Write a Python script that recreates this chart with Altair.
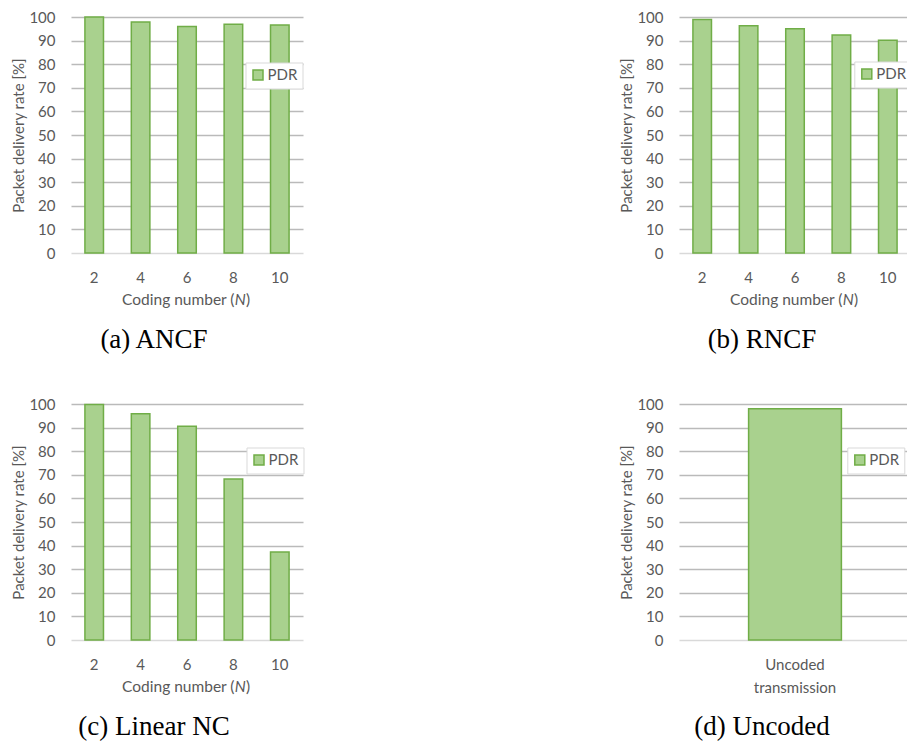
import altair as alt
import pandas as pd

# ---- data -------------------------------------------------------------
coding_numbers = ["2", "4", "6", "8", "10"]
pdr_ancf = [100.0, 97.9, 96.0, 96.9, 96.6]
pdr_rncf = [98.9, 96.3, 95.0, 92.4, 90.2]
pdr_linear_nc = [99.8, 95.9, 90.6, 68.2, 37.3]
uncoded_category = ["Uncoded transmission"]
pdr_uncoded = [98.0]
series_name = "PDR"
y_ticks = list(range(0, 101, 10))

captions = ["(a) ANCF", "(b) RNCF", "(c) Linear NC", "(d) Uncoded"]

# ---- style ------------------------------------------------------------
FONT = "Lato"
CAPTION_FONT = "Liberation Serif"
TEXT_GREY = "#595959"
BAR_FILL = "#a9d18e"
BAR_EDGE = "#70ad47"
PLOT_W, PLOT_H = 232, 236


def text_layer(text, x, y, **style):
    return (
        alt.Chart(pd.DataFrame({"t": [text]}))
        .mark_text(**style)
        .encode(text="t:N", x=alt.value(x), y=alt.value(y))
    )


def panel(categories, values, caption, legend_x, legend_y, coding_axis=True):
    df = pd.DataFrame({"category": categories, "pdr": values, "series": series_name})

    x_axis_opts = dict(
        title=None,
        labelFont=FONT,
        labelFontSize=15,
        labelColor=TEXT_GREY,
        labelAngle=0,
        labelPadding=29.5,
        labelBaseline="alphabetic",
        labelLineHeight=23,
        ticks=False,
        tickSize=0,
        domain=False,
        grid=False,
    )
    if not coding_axis:
        x_axis_opts["labelExpr"] = "split(datum.label, ' ')"

    y_axis = alt.Axis(
        values=y_ticks,
        title="Packet delivery rate [%]",
        titleFont=FONT,
        titleFontSize=15,
        titleFontWeight="normal",
        titleColor=TEXT_GREY,
        titlePadding=2,
        labelFont=FONT,
        labelFontSize=15,
        labelColor=TEXT_GREY,
        labelPadding=16,
        ticks=False,
        tickSize=0,
        domain=False,
        grid=True,
        gridColor={"condition": {"test": "datum.value === 0", "value": "#d9d9d9"}, "value": "#bababa"},
        gridWidth=1.6,
    )

    bars = alt.Chart(df).mark_bar(stroke=BAR_EDGE, strokeWidth=1.5).encode(
        x=alt.X(
            "category:N",
            sort=categories,
            scale=alt.Scale(paddingInner=0.6, paddingOuter=0.3),
            axis=alt.Axis(**x_axis_opts),
        ),
        y=alt.Y("pdr:Q", scale=alt.Scale(domain=[0, 100], nice=False), axis=y_axis),
        color=alt.Color(
            "series:N",
            scale=alt.Scale(range=[BAR_FILL]),
            legend=alt.Legend(
                title=None,
                orient="none",
                legendX=legend_x,
                legendY=legend_y,
                padding=5,
                strokeColor="#d9d9d9",
                fillColor="white",
                cornerRadius=0,
                symbolType="square",
                symbolSize=100,
                symbolStrokeColor=BAR_EDGE,
                symbolStrokeWidth=1.5,
                symbolOffset=0,
                labelFont=FONT,
                labelFontSize=15,
                labelColor=TEXT_GREY,
                labelOffset=2,
            ),
        ),
    )

    layers = [bars]
    if coding_axis:
        base = dict(font=FONT, fontSize=15.5, color=TEXT_GREY, baseline="alphabetic")
        layers += [
            text_layer("Coding number (", 163.5, 287.5, align="right", **base),
            text_layer("N", 169.3, 287.5, align="center", fontStyle="italic", **base),
            text_layer(")", 175, 287.5, align="left", **base),
        ]
    layers.append(
        text_layer(
            caption, 83, 331, align="center", baseline="alphabetic",
            font=CAPTION_FONT, fontSize=27, color="black",
        )
    )
    return alt.layer(*layers).properties(width=PLOT_W, height=PLOT_H)


chart_a = panel(coding_numbers, pdr_ancf, captions[0], 174.5, 45.5)
chart_b = panel(coding_numbers, pdr_rncf, captions[1], 175.3, 44.5)
chart_c = panel(coding_numbers, pdr_linear_nc, captions[2], 175.5, 43.5)
chart_d = panel(uncoded_category, pdr_uncoded, captions[3], 168.3, 43.5, coding_axis=False)

chart = (
    alt.concat(
        chart_a, chart_b, chart_c, chart_d,
        columns=2,
        spacing={"row": 151, "column": 376},
        bounds="flush",
    )
    .resolve_scale(color="independent")
    .properties(
        autosize=alt.AutoSizeParams(type="none"),
        padding={"left": 71, "top": 17, "right": 907 - 71, "bottom": 749 - 17},
        background="white",
    )
    .configure_view(stroke=None)
)

chart.save("out.html", embed_options={"renderer": "svg", "actions": False})
